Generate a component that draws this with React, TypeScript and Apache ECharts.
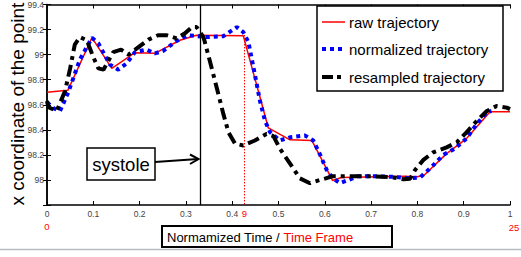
import React, { useEffect, useRef } from "react";
import * as echarts from "echarts";

// ---- data (normalized time vs x coordinate) ----
const rawT = [0, 0.045, 0.097, 0.14, 0.19, 0.233, 0.287, 0.323, 0.424, 0.478, 0.525, 0.572, 0.617, 0.636, 0.77, 0.8, 0.815, 0.863, 0.906, 0.957, 1.0];
const rawV = [98.7, 98.715, 99.135, 98.89, 99.015, 99.01, 99.115, 99.155, 99.15, 98.415, 98.32, 98.315, 97.995, 98.02, 98.03, 98.025, 98.04, 98.21, 98.33, 98.545, 98.545];

const normT = [0, 0.015, 0.028, 0.046, 0.071, 0.097, 0.111, 0.136, 0.154, 0.172, 0.19, 0.215, 0.233, 0.251, 0.28, 0.305, 0.345, 0.381, 0.41, 0.424, 0.435, 0.449, 0.46, 0.471, 0.482, 0.503, 0.525, 0.557, 0.575, 0.59, 0.604, 0.618, 0.633, 0.651, 0.672, 0.705, 0.748, 0.784, 0.806, 0.831, 0.856, 0.881, 0.906, 0.928, 0.95, 0.96];
const normV = [98.62, 98.57, 98.55, 98.7, 98.96, 99.135, 99.09, 98.92, 98.88, 98.93, 99.02, 99.04, 99.01, 99.03, 99.11, 99.155, 99.14, 99.147, 99.22, 99.18, 99.1, 98.84, 98.63, 98.47, 98.38, 98.315, 98.34, 98.355, 98.315, 98.2, 98.08, 98.01, 97.975, 98.0, 98.03, 98.03, 98.025, 98.013, 98.02, 98.105, 98.2, 98.25, 98.33, 98.446, 98.54, 98.55];

const resT = [0, 0.003, 0.021, 0.039, 0.05, 0.06, 0.071, 0.086, 0.1, 0.111, 0.122, 0.143, 0.16, 0.176, 0.194, 0.219, 0.24, 0.258, 0.28, 0.298, 0.313, 0.323, 0.338, 0.352, 0.367, 0.381, 0.392, 0.406, 0.424, 0.449, 0.474, 0.489, 0.503, 0.525, 0.546, 0.568, 0.59, 0.618, 0.654, 0.7, 0.748, 0.77, 0.784, 0.795, 0.813, 0.834, 0.863, 0.885, 0.906, 0.928, 0.95, 0.971, 0.993, 1.0];
const resV = [98.63, 98.58, 98.55, 98.71, 98.89, 99.08, 99.14, 99.115, 98.98, 98.89, 98.88, 99.02, 99.04, 99.0, 99.05, 99.12, 99.155, 99.155, 99.13, 99.17, 99.22, 99.22, 99.14, 98.945, 98.73, 98.525, 98.38, 98.29, 98.275, 98.315, 98.367, 98.35, 98.25, 98.13, 98.013, 97.974, 98.0, 98.03, 98.03, 98.03, 98.02, 98.005, 98.01, 98.08, 98.16, 98.22, 98.26, 98.3, 98.38, 98.47, 98.55, 98.59, 98.577, 98.565];

const seriesNames = ["raw trajectory", "normalized trajectory", "resampled trajectory"];
const xTicks = { min: 0, max: 1, step: 0.1 };
const yTicks = { min: 97.8, max: 99.4, step: 0.2 };
const systoleT = 0.33;
const frameT = 0.4255;
const frameV = 99.157;
const frameLabels = ["0", "9", "25"];

const zip = (a: number[], b: number[]) => a.map((v, i) => [v, b[i]]);

const COLORS = ["#ff0000", "#0000ff", "#000000"];
const WIDTHS = [1.5, 4, 4];
const DASHES: (number[] | null)[] = [null, [4, 4], [12, 5, 4, 5]];
const LEGEND_DASHES: (number[] | null)[] = [null, [4, 4], [11, 4, 4, 4]];

export default function App() {
  const ref = useRef<HTMLDivElement>(null);
  useEffect(() => {
    document.body.style.margin = "0";
    const chart = echarts.init(ref.current!, null, { renderer: "svg" });
    const font = "Liberation Sans";
    const labelStyle = { fontSize: 8.5, color: "#444", fontFamily: font };
    const axisCommon = {
      axisLine: { show: true, lineStyle: { color: "#000", width: 1.5 } },
      axisTick: { show: true, inside: true, length: 4, lineStyle: { color: "#000", width: 1 } },
      splitLine: { show: false },
    };
    const center = { align: "center", verticalAlign: "middle", textAlign: "center", textVerticalAlign: "middle" };
    const legendRows = [22, 49, 77];
    const legendGraphics: any[] = [
      { type: "rect", shape: { x: 317, y: 6, width: 186, height: 85 }, style: { fill: "#fff", stroke: "#000", lineWidth: 1.5 }, z: 20 },
    ];
    seriesNames.forEach((name, i) => {
      legendGraphics.push({
        type: "line", z: 21,
        shape: { x1: 322, y1: legendRows[i], x2: 345, y2: legendRows[i] },
        style: { stroke: COLORS[i], lineWidth: i === 0 ? 1.5 : 4, lineDash: LEGEND_DASHES[i] || undefined },
      });
      legendGraphics.push({
        type: "text", x: 349, y: legendRows[i], z: 21,
        style: { text: name, fontSize: 15, fontFamily: font, fill: "#000", align: "left", verticalAlign: "middle", textAlign: "left", textVerticalAlign: "middle" },
      });
    });
    chart.setOption({
      animation: false,
      backgroundColor: "#fff",
      grid: { left: 47, top: 2, width: 463, height: 203 },
      xAxis: [
        {
          type: "value", min: xTicks.min, max: xTicks.max, interval: xTicks.step, position: "bottom",
          ...axisCommon,
          axisLabel: { ...labelStyle, margin: 4, formatter: (v: number) => String(+v.toFixed(1)) },
        },
        {
          type: "value", min: xTicks.min, max: xTicks.max, interval: xTicks.step, position: "top",
          ...axisCommon, axisLabel: { show: false },
        },
      ],
      yAxis: [
        {
          type: "value", min: yTicks.min, max: yTicks.max, interval: yTicks.step, position: "left",
          ...axisCommon,
          axisLabel: {
            ...labelStyle, margin: 3,
            formatter: (v: number) => (Math.abs(v - yTicks.min) < 1e-6 ? "" : String(+v.toFixed(1))),
          },
        },
        {
          type: "value", min: yTicks.min, max: yTicks.max, interval: yTicks.step, position: "right",
          ...axisCommon, axisLabel: { show: false },
        },
      ],
      series: [
        {
          name: seriesNames[0], type: "line", data: zip(rawT, rawV), symbol: "none",
          lineStyle: { color: COLORS[0], width: WIDTHS[0] }, itemStyle: { color: COLORS[0] }, z: 2,
          markLine: {
            silent: true, symbol: "none", label: { show: false },
            data: [
              [
                { coord: [systoleT, yTicks.min], lineStyle: { color: "#000", width: 1.3, type: "solid" } },
                { coord: [systoleT, yTicks.max] },
              ],
              [
                { coord: [frameT, frameV], lineStyle: { color: "#ff0000", width: 1, type: [1.5, 1.5] } },
                { coord: [frameT, yTicks.min] },
              ],
            ],
          },
        },
        {
          name: seriesNames[1], type: "line", data: zip(normT, normV), symbol: "none",
          lineStyle: { color: COLORS[1], width: WIDTHS[1], type: DASHES[1] }, itemStyle: { color: COLORS[1] }, z: 3,
        },
        {
          name: seriesNames[2], type: "line", data: zip(resT, resV), symbol: "none",
          lineStyle: { color: COLORS[2], width: WIDTHS[2], type: DASHES[2] }, itemStyle: { color: COLORS[2] }, z: 4,
        },
      ],
      graphic: [
        {
          type: "text", x: 17, y: 104, rotation: Math.PI / 2,
          style: { text: "x coordinate of the point", fontSize: 19, fontFamily: font, fill: "#000", ...center },
        },
        ...legendGraphics,
        { type: "rect", shape: { x: 87, y: 148, width: 68, height: 32 }, style: { fill: "#fff", stroke: "#000", lineWidth: 1.5 }, z: 10 },
        {
          type: "text", x: 121, y: 164, z: 11,
          style: { text: "systole", fontSize: 18.5, fontFamily: font, fill: "#000", ...center },
        },
        { type: "line", shape: { x1: 155, y1: 162, x2: 198, y2: 159 }, style: { stroke: "#000", lineWidth: 2 }, z: 10 },
        { type: "polyline", shape: { points: [[190, 154.5], [198.5, 159], [190, 164]] }, style: { stroke: "#000", lineWidth: 2, fill: null }, z: 10 },
        { type: "text", x: 47, y: 226, style: { text: frameLabels[0], fontSize: 9.5, fontFamily: font, fill: "#ff0000", ...center } },
        { type: "text", x: 244.5, y: 213.5, style: { text: frameLabels[1], fontSize: 9.5, fontFamily: font, fill: "#ff0000", ...center } },
        { type: "text", x: 514, y: 227, style: { text: frameLabels[2], fontSize: 9.5, fontFamily: font, fill: "#ff0000", ...center } },
        { type: "rect", shape: { x: 162, y: 226, width: 230, height: 21 }, style: { fill: "#fff", stroke: "#000", lineWidth: 2 } },
        {
          type: "text", x: 167, y: 237,
          style: {
            text: "{b|Normamized Time / }{r|Time Frame}",
            fontSize: 13, fontFamily: font, align: "left", verticalAlign: "middle", textAlign: "left", textVerticalAlign: "middle",
            rich: {
              b: { fontSize: 13, fontFamily: font, fill: "#000", color: "#000" },
              r: { fontSize: 13, fontFamily: font, fill: "#ff0000", color: "#ff0000" },
            },
          },
        },
        { type: "line", shape: { x1: 0, y1: 249.5, x2: 521, y2: 249.5 }, style: { stroke: "#b4bcc4", lineWidth: 1.5 } },
      ],
    });
    return () => chart.dispose();
  }, []);
  return <div ref={ref} style={{ width: 521, height: 257, background: "#fff" }} />;
}
